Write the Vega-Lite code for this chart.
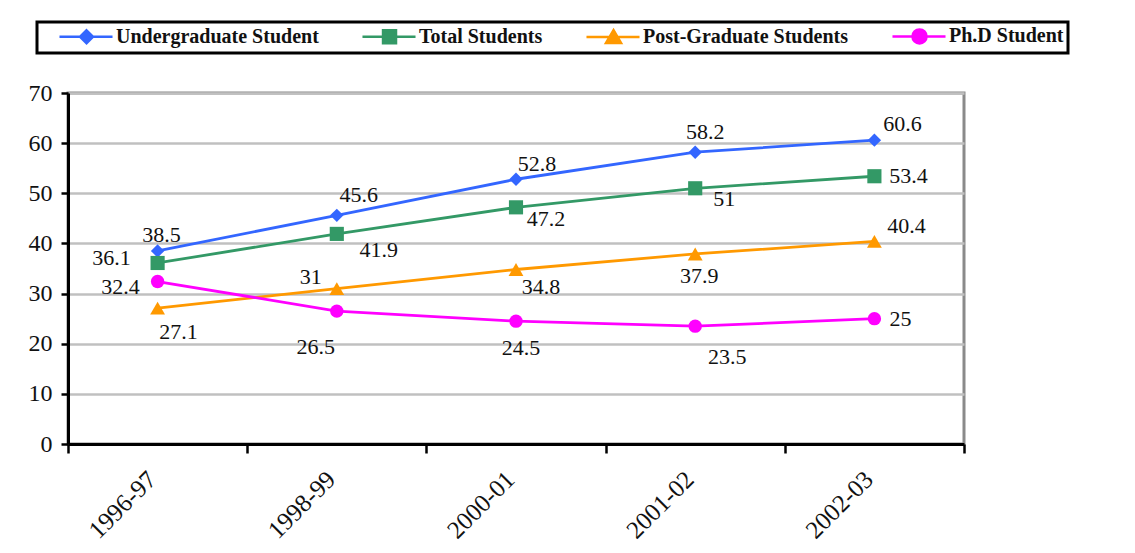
{
  "$schema": "https://vega.github.io/schema/vega-lite/v6.json",
  "width": 896,
  "height": 351,
  "autosize": {"type": "none"},
  "padding": {"left": 68, "top": 93, "right": 171, "bottom": 109},
  "background": "white",
  "data": {
    "values": [
      {"year": "1996-97", "series": "Undergraduate Student", "value": 38.5},
      {"year": "1998-99", "series": "Undergraduate Student", "value": 45.6},
      {"year": "2000-01", "series": "Undergraduate Student", "value": 52.8},
      {"year": "2001-02", "series": "Undergraduate Student", "value": 58.2},
      {"year": "2002-03", "series": "Undergraduate Student", "value": 60.6},
      {"year": "1996-97", "series": "Total Students", "value": 36.1},
      {"year": "1998-99", "series": "Total Students", "value": 41.9},
      {"year": "2000-01", "series": "Total Students", "value": 47.2},
      {"year": "2001-02", "series": "Total Students", "value": 51},
      {"year": "2002-03", "series": "Total Students", "value": 53.4},
      {"year": "1996-97", "series": "Post-Graduate Students", "value": 27.1},
      {"year": "1998-99", "series": "Post-Graduate Students", "value": 31},
      {"year": "2000-01", "series": "Post-Graduate Students", "value": 34.8},
      {"year": "2001-02", "series": "Post-Graduate Students", "value": 37.9},
      {"year": "2002-03", "series": "Post-Graduate Students", "value": 40.4},
      {"year": "1996-97", "series": "Ph.D Student", "value": 32.4},
      {"year": "1998-99", "series": "Ph.D Student", "value": 26.5},
      {"year": "2000-01", "series": "Ph.D Student", "value": 24.5},
      {"year": "2001-02", "series": "Ph.D Student", "value": 23.5},
      {"year": "2002-03", "series": "Ph.D Student", "value": 25}
    ]
  },
  "encoding": {
    "x": {
      "field": "year",
      "type": "nominal",
      "sort": null,
      "bandPosition": 0.5,
      "scale": {"type": "band", "paddingInner": 0, "paddingOuter": 0},
      "axis": {
        "title": null,
        "labelAngle": -45,
        "labelAlign": "right",
        "labelBaseline": "middle",
        "tickBand": "extent",
        "tickSize": 9,
        "tickWidth": 2.5,
        "tickColor": "black",
        "domainColor": "black",
        "domainWidth": 3,
        "labelFont": "Liberation Serif",
        "labelFontSize": 25,
        "labelColor": "#111111",
        "labelPadding": 22,
        "labelOffset": -6,
        "grid": false
      }
    },
    "y": {
      "field": "value",
      "type": "quantitative",
      "scale": {"domain": [0, 70], "nice": false},
      "axis": {
        "title": null,
        "values": [0, 10, 20, 30, 40, 50, 60, 70],
        "domainColor": "black",
        "domainWidth": 3,
        "tickColor": "black",
        "tickWidth": 2.5,
        "tickSize": 7,
        "labelFont": "Liberation Serif",
        "labelFontSize": 24,
        "labelColor": "#111111",
        "labelPadding": 9,
        "grid": true,
        "gridColor": "#c0c0c0",
        "gridWidth": 2.5
      }
    }
  },
  "layer": [
    {
      "mark": {"type": "line", "strokeWidth": 2.8},
      "encoding": {
        "color": {
          "field": "series",
          "type": "nominal",
          "scale": {
            "domain": ["Undergraduate Student", "Total Students", "Post-Graduate Students", "Ph.D Student"],
            "range": ["#3366ff", "#339966", "#ff9900", "#ff00ff"]
          },
          "legend": {
            "orient": "none",
            "legendX": -31,
            "legendY": -71,
            "direction": "horizontal",
            "columns": 4,
            "title": null,
            "labelFont": "Liberation Serif",
            "labelFontSize": 20,
            "labelFontWeight": "bold",
            "labelColor": "#111111",
            "labelLimit": 400,
            "symbolSize": 256,
            "symbolStrokeWidth": 2.5,
            "labelOffset": 55,
            "columnPadding": 25,
            "padding": 4,
            "strokeColor": "black",
            "fillColor": "white",
            "encode": {
              "legend": {
                "update": {"strokeWidth": {"value": 3}}
              },
              "symbols": {
                "update": {
                  "shape": {"signal": "datum.value === 'Undergraduate Student' ? 'M1.06,0H7.69M4.44,-0.81L5.25,0L4.44,0.81L3.63,0Z' : datum.value === 'Total Students' ? 'M1.06,0H7.69M3.63,-0.81H5.25V0.81H3.63Z' : datum.value === 'Post-Graduate Students' ? 'M1.06,0H7.69M4.44,-0.85L5.38,0.75H3.5Z' : 'M1.06,0H7.69M3.56,0A0.88,0.88 0 1,0 5.32,0A0.88,0.88 0 1,0 3.56,0Z'"},
                  "fill": {"scale": "color", "field": "value"},
                  "stroke": {"scale": "color", "field": "value"},
                  "strokeWidth": {"value": 2.5},
                  "opacity": {"value": 1}
                }
              }
            }
          }
        }
      }
    },
    {
      "transform": [{"filter": "datum.series === 'Undergraduate Student'"}],
      "mark": {"type": "point", "shape": "diamond", "size": 180, "filled": true, "opacity": 1},
      "encoding": {"color": {"field": "series", "type": "nominal"}}
    },
    {
      "transform": [{"filter": "datum.series === 'Total Students'"}],
      "mark": {"type": "point", "shape": "square", "size": 200, "filled": true, "opacity": 1},
      "encoding": {"color": {"field": "series", "type": "nominal"}}
    },
    {
      "transform": [{"filter": "datum.series === 'Post-Graduate Students'"}],
      "mark": {"type": "point", "shape": "triangle-up", "size": 220, "filled": true, "opacity": 1},
      "encoding": {"color": {"field": "series", "type": "nominal"}}
    },
    {
      "transform": [{"filter": "datum.series === 'Ph.D Student'"}],
      "mark": {"type": "point", "shape": "circle", "size": 180, "filled": true, "opacity": 1},
      "encoding": {"color": {"field": "series", "type": "nominal"}}
    },
    {
      "encoding": {
        "text": {"field": "value", "type": "quantitative"}
      },
      "layer": [
        {"transform": [{"filter": "datum.series === 'Undergraduate Student' && datum.year === '1996-97'"}], "mark": {"type": "text", "dx": 4, "dy": -16}},
        {"transform": [{"filter": "datum.series === 'Undergraduate Student' && datum.year === '1998-99'"}], "mark": {"type": "text", "dx": 22, "dy": -20}},
        {"transform": [{"filter": "datum.series === 'Undergraduate Student' && datum.year === '2000-01'"}], "mark": {"type": "text", "dx": 21, "dy": -15}},
        {"transform": [{"filter": "datum.series === 'Undergraduate Student' && datum.year === '2001-02'"}], "mark": {"type": "text", "dx": 10, "dy": -20}},
        {"transform": [{"filter": "datum.series === 'Undergraduate Student' && datum.year === '2002-03'"}], "mark": {"type": "text", "dx": 28, "dy": -16}},
        {"transform": [{"filter": "datum.series === 'Total Students' && datum.year === '1996-97'"}], "mark": {"type": "text", "dx": -46, "dy": -5}},
        {"transform": [{"filter": "datum.series === 'Total Students' && datum.year === '1998-99'"}], "mark": {"type": "text", "dx": 42, "dy": 16}},
        {"transform": [{"filter": "datum.series === 'Total Students' && datum.year === '2000-01'"}], "mark": {"type": "text", "dx": 30, "dy": 12}},
        {"transform": [{"filter": "datum.series === 'Total Students' && datum.year === '2001-02'"}], "mark": {"type": "text", "dx": 29, "dy": 11}},
        {"transform": [{"filter": "datum.series === 'Total Students' && datum.year === '2002-03'"}], "mark": {"type": "text", "dx": 34, "dy": 0}},
        {"transform": [{"filter": "datum.series === 'Post-Graduate Students' && datum.year === '1996-97'"}], "mark": {"type": "text", "dx": 21, "dy": 24}},
        {"transform": [{"filter": "datum.series === 'Post-Graduate Students' && datum.year === '1998-99'"}], "mark": {"type": "text", "dx": -26, "dy": -12}},
        {"transform": [{"filter": "datum.series === 'Post-Graduate Students' && datum.year === '2000-01'"}], "mark": {"type": "text", "dx": 25, "dy": 17}},
        {"transform": [{"filter": "datum.series === 'Post-Graduate Students' && datum.year === '2001-02'"}], "mark": {"type": "text", "dx": 4, "dy": 22}},
        {"transform": [{"filter": "datum.series === 'Post-Graduate Students' && datum.year === '2002-03'"}], "mark": {"type": "text", "dx": 32, "dy": -15}},
        {"transform": [{"filter": "datum.series === 'Ph.D Student' && datum.year === '1996-97'"}], "mark": {"type": "text", "dx": -37, "dy": 5}},
        {"transform": [{"filter": "datum.series === 'Ph.D Student' && datum.year === '1998-99'"}], "mark": {"type": "text", "dx": -21, "dy": 36}},
        {"transform": [{"filter": "datum.series === 'Ph.D Student' && datum.year === '2000-01'"}], "mark": {"type": "text", "dx": 5, "dy": 27}},
        {"transform": [{"filter": "datum.series === 'Ph.D Student' && datum.year === '2001-02'"}], "mark": {"type": "text", "dx": 32, "dy": 31}},
        {"transform": [{"filter": "datum.series === 'Ph.D Student' && datum.year === '2002-03'"}], "mark": {"type": "text", "dx": 26, "dy": 0}}
      ]
    }
  ],
  "config": {
    "view": {"stroke": "#8a8a8a", "strokeWidth": 3},
    "text": {"font": "Liberation Serif", "fontSize": 22, "fill": "#111111", "align": "center", "baseline": "middle"}
  }
}
